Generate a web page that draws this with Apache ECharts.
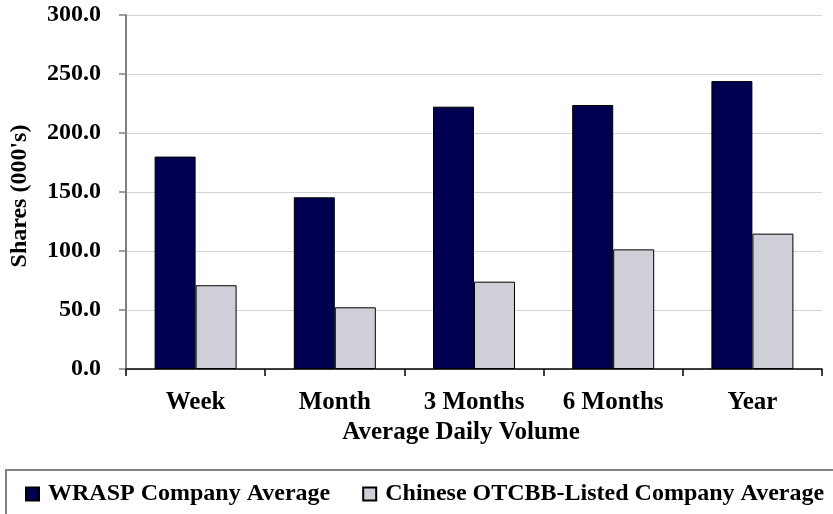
<!DOCTYPE html>
<html>
<head>
<meta charset="utf-8">
<script src="https://cdn.jsdelivr.net/npm/echarts@6/dist/echarts.min.js"></script>
<style>
html,body{margin:0;padding:0;background:#fff;}
#chart{width:833px;height:514px;}
</style>
</head>
<body>
<div id="chart"></div>
<script>
var categories = ['Week', 'Month', '3 Months', '6 Months', 'Year'];
var wraspValues = [180.0, 145.5, 222.3, 223.7, 244.0];
var otcbbValues = [71.0, 52.3, 74.0, 101.4, 114.7];
var seriesNames = ['WRASP Company Average', 'Chinese OTCBB-Listed Company Average'];
var yTitle = "Shares (000's)";
var xTitle = 'Average Daily Volume';

var FONT = "'Liberation Serif', 'Times New Roman', serif";
var chart = echarts.init(document.getElementById('chart'), null, {renderer: 'canvas'});
chart.setOption({
  backgroundColor: '#ffffff',
  animation: false,
  grid: {left: 121, right: 11, top: 15, bottom: 145, containLabel: false},
  graphic: [{
    type: 'rect',
    shape: {x: 6, y: 470, width: 900, height: 100},
    style: {fill: 'none', stroke: '#808080', lineWidth: 2},
    z: 0
  }],
  legend: {
    left: 20, top: 477,
    itemWidth: 13, itemHeight: 13, itemGap: 32,
    icon: 'rect',
    textStyle: {fontFamily: FONT, fontWeight: 'bold', fontSize: 24, color: '#000', padding: [0, 0, 0, 4]},
    data: seriesNames
  },
  xAxis: {
    type: 'category',
    data: categories,
    boundaryGap: true,
    axisLine: {lineStyle: {color: '#000', width: 1.5}},
    axisTick: {show: true, length: 7, inside: false, lineStyle: {color: '#000', width: 1.5}},
    axisLabel: {fontFamily: FONT, fontWeight: 'bold', fontSize: 25, color: '#000', margin: 21},
    name: xTitle,
    nameLocation: 'middle',
    nameGap: 50,
    nameTextStyle: {fontFamily: FONT, fontWeight: 'bold', fontSize: 25, color: '#000', padding: [0, 26, 0, 0]}
  },
  yAxis: {
    type: 'value',
    min: 0, max: 300, interval: 50,
    axisLine: {show: true, lineStyle: {color: '#808080', width: 2}},
    axisTick: {show: true, length: 7, lineStyle: {color: '#808080', width: 1.5}},
    splitLine: {show: true, lineStyle: {color: '#d4d4d4', width: 1}},
    axisLabel: {fontFamily: FONT, fontWeight: 'bold', fontSize: 24, color: '#000', margin: 25,
      formatter: function (v) { return v.toFixed(1); }},
    name: yTitle,
    nameLocation: 'middle',
    nameGap: 94,
    nameRotate: 90,
    nameTextStyle: {fontFamily: FONT, fontWeight: 'bold', fontSize: 24, color: '#000', padding: [0, 8, 0, 0]}
  },
  series: [{
    name: seriesNames[0],
    type: 'bar',
    data: wraspValues,
    barWidth: 41,
    barGap: '0%',
    itemStyle: {color: '#000050', borderColor: '#000', borderWidth: 1}
  }, {
    name: seriesNames[1],
    type: 'bar',
    data: otcbbValues,
    barWidth: 41,
    barGap: '0%',
    itemStyle: {color: '#cfcfd8', borderColor: '#000', borderWidth: 1}
  }]
});
</script>
</body>
</html>
